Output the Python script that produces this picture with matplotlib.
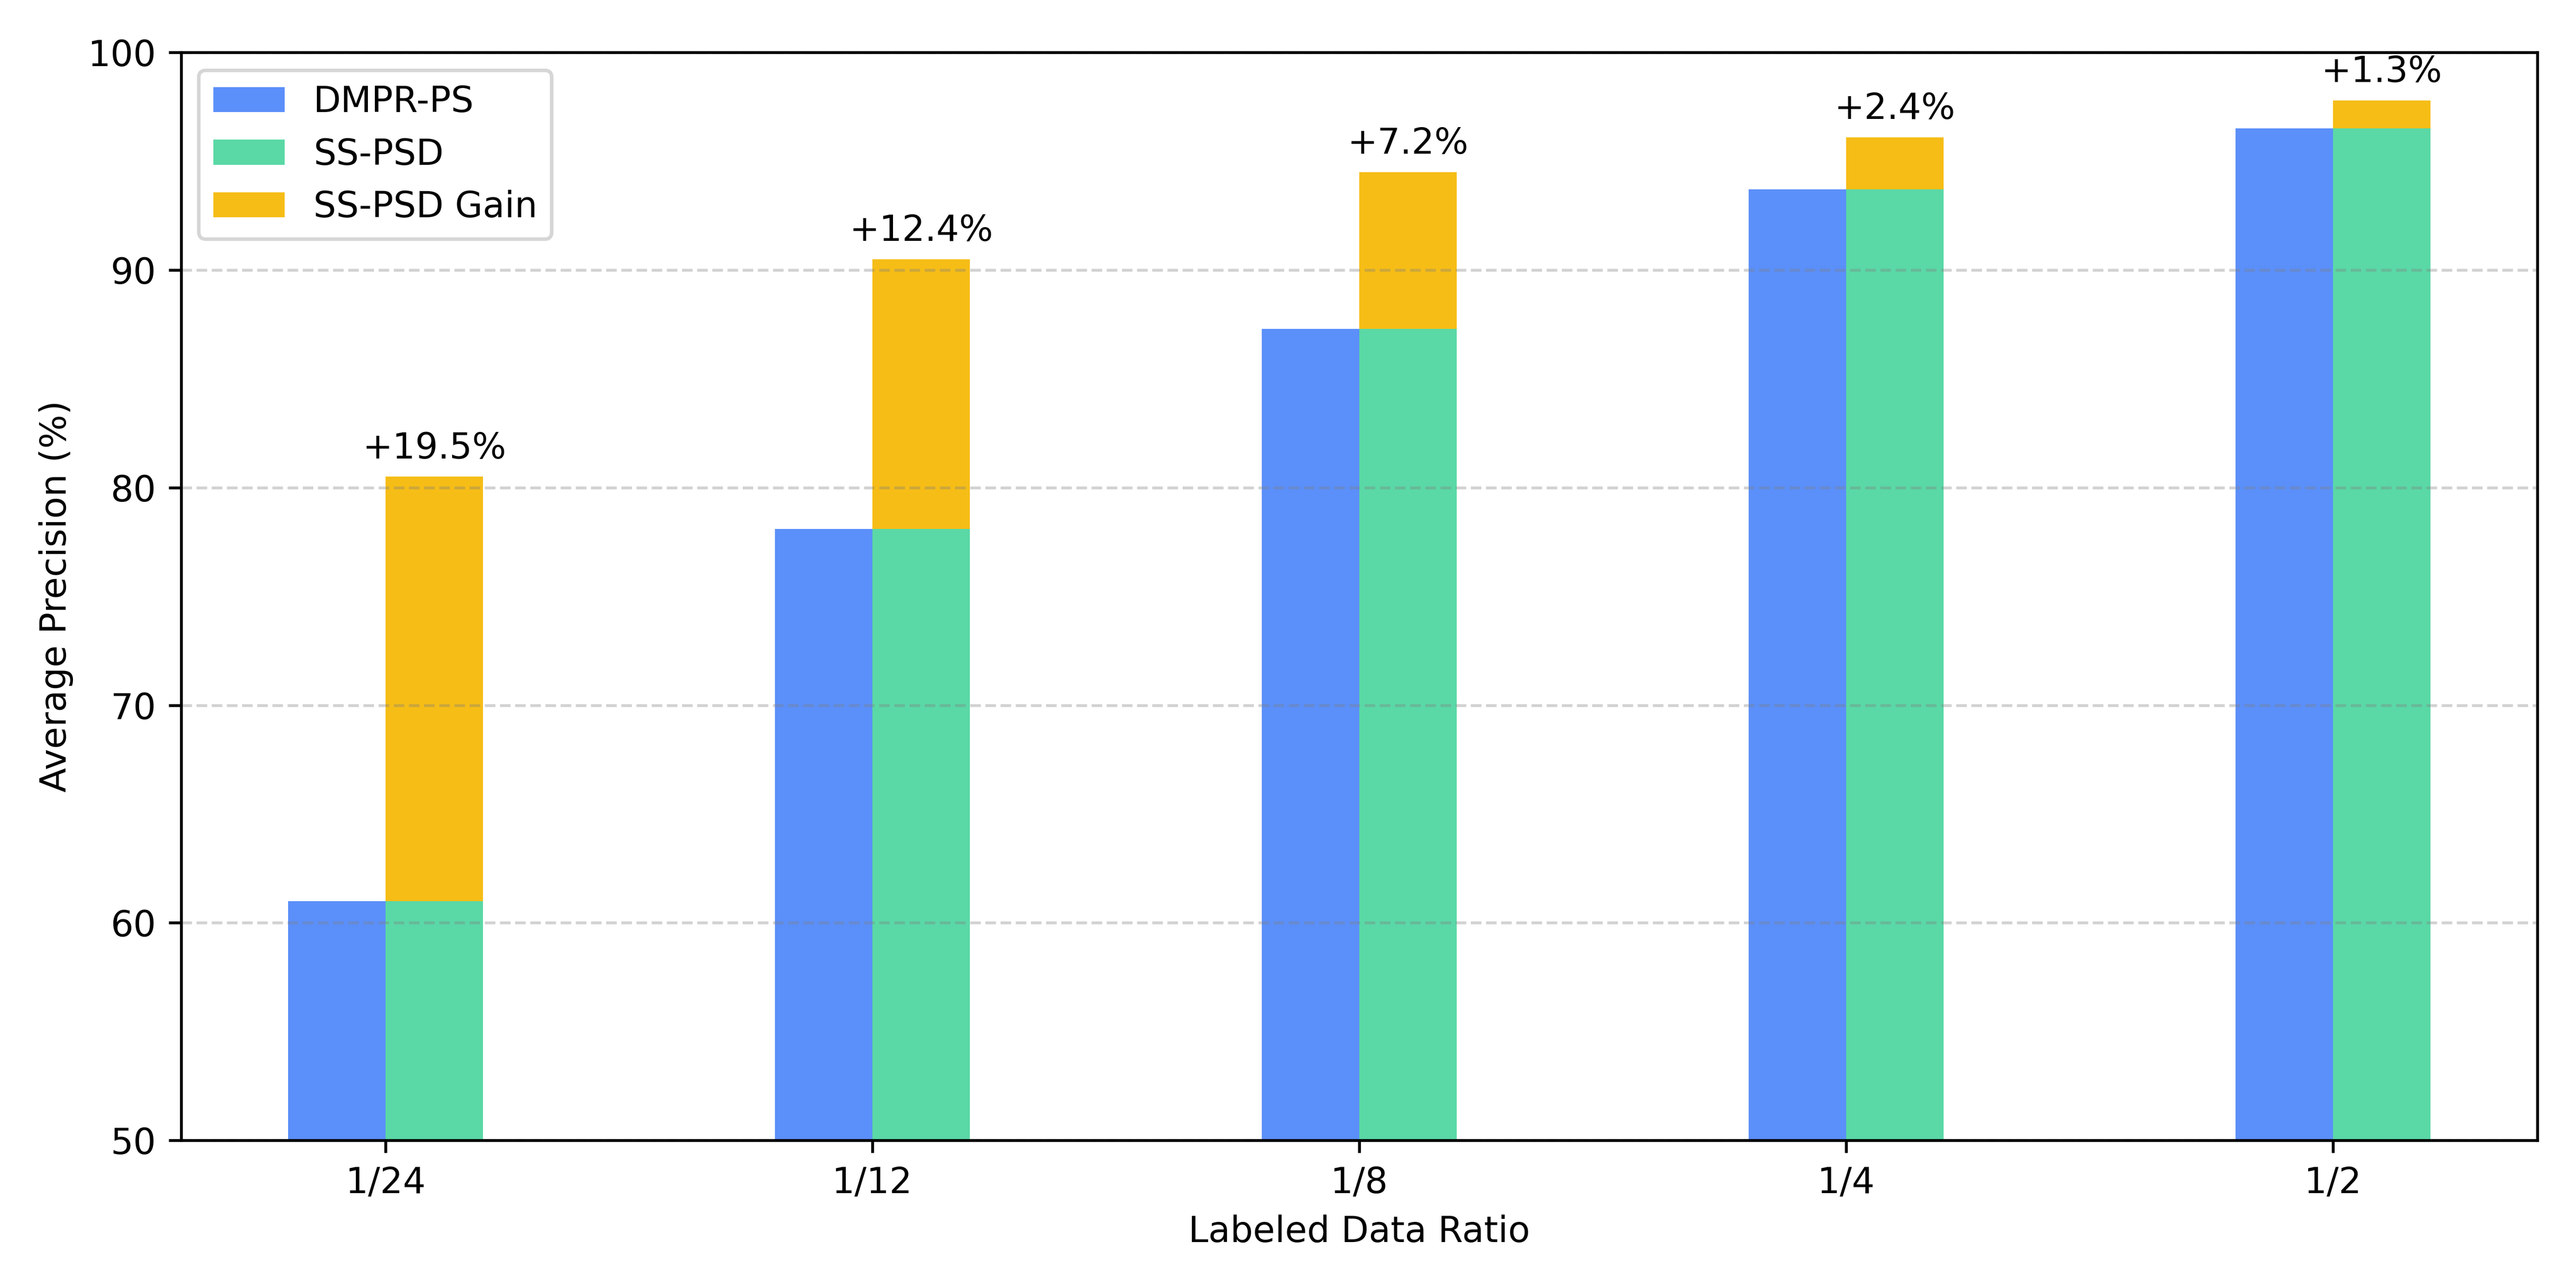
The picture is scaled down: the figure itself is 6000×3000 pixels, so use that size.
import matplotlib
matplotlib.use("Agg")
import matplotlib.pyplot as plt
import numpy as np

# Data
ratios = ['1/24', '1/12', '1/8', '1/4', '1/2']
dmpr_ps = [61.0, 78.1, 87.3, 93.7, 96.5]
ss_psd = [80.5, 90.5, 94.5, 96.1, 97.8]
gain = [s - d for s, d in zip(ss_psd, dmpr_ps)]
gain_labels = ['+19.5%', '+12.4%', '+7.2%', '+2.4%', '+1.3%']

colors = {'dmpr': '#5B8FF9', 'ss': '#5AD8A6', 'gain': '#F6BD16'}

fig, ax = plt.subplots(figsize=(10, 5), dpi=600)

x = np.arange(len(ratios))
bar_width = 0.2

ax.bar(x - bar_width / 2, dmpr_ps, bar_width, color=colors['dmpr'], label='DMPR-PS')
ax.bar(x + bar_width / 2, dmpr_ps, bar_width, color=colors['ss'], label='SS-PSD')
ax.bar(x + bar_width / 2, gain, bar_width, bottom=dmpr_ps, color=colors['gain'], label='SS-PSD Gain')

# gain annotations above the stacked bars
for xi, top, lab in zip(x, ss_psd, gain_labels):
    ax.text(xi + bar_width / 2, top + 0.5, lab, ha='center', va='bottom', fontsize=10)

ax.set_ylim(50, 100)
ax.set_xticks(x)
ax.set_xticklabels(ratios)
ax.set_xlabel('Labeled Data Ratio')
ax.set_ylabel('Average Precision (%)')

ax.grid(True, axis='y', linestyle='--', color='gray', alpha=0.35)
ax.legend(loc='upper left')

plt.tight_layout()
plt.savefig('out.png')
